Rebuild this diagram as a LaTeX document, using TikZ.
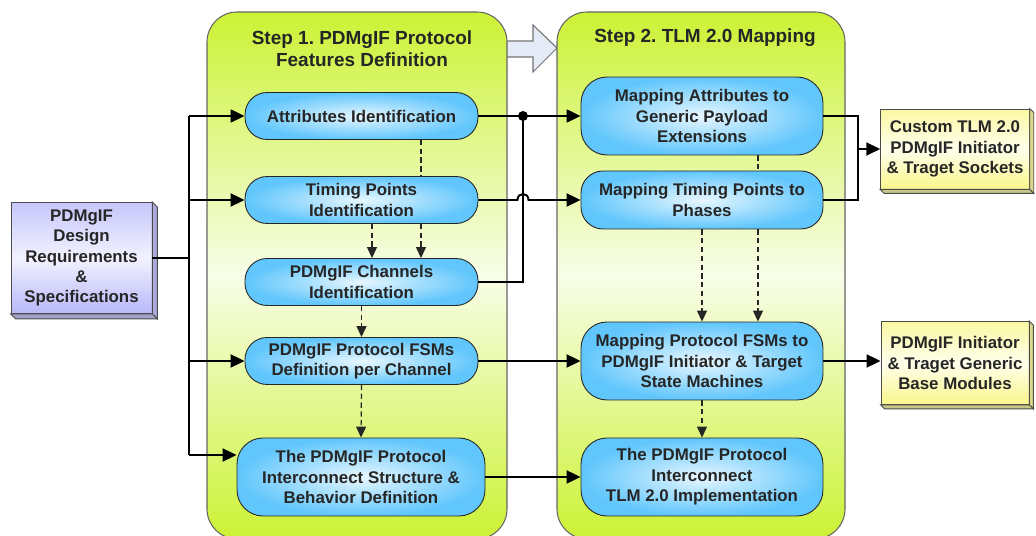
\documentclass[tikz,border=0pt]{standalone}
\usepackage{fontspec}
\setmainfont{Liberation Sans}
\usepackage{xcolor}
\usetikzlibrary{arrows.meta,calc,positioning}
\frenchspacing

\definecolor{limeG}{RGB}{204,242,52}
\definecolor{limeW}{RGB}{248,253,232}
\definecolor{pillC}{RGB}{96,198,252}
\definecolor{pillW}{RGB}{232,247,255}
\definecolor{lavC}{RGB}{184,184,250}
\definecolor{lavW}{RGB}{242,242,255}
\definecolor{yelC}{RGB}{250,246,140}
\definecolor{yelW}{RGB}{255,255,236}
\definecolor{hollow}{RGB}{228,234,246}

\begin{document}
\begin{tikzpicture}[x=0.02cm, y=-0.02cm,
  txt/.style={font=\fontsize{9.6}{11.6}\selectfont\bfseries, align=center, text=black!85},
  title/.style={font=\fontsize{10.8}{12.6}\selectfont\bfseries, align=center, text=black!85},
  panel/.style={draw=black!60, line width=0.6pt, rounded corners=0.6cm, top color=limeG, bottom color=limeG, middle color=limeW},
  pill/.style={txt, draw=black!85, line width=0.5pt, rounded corners=0.44cm, inner color=pillW, outer color=pillC, inner sep=0pt, minimum height=0.94cm},
  bigpill/.style={pill, rounded corners=0.52cm, minimum height=1.56cm},
  reqbox/.style={txt, draw=black!70, line width=0.5pt, top color=lavC!80, bottom color=lavC, middle color=lavW, minimum width=2.82cm, minimum height=2.22cm},
  outbox/.style={txt, draw=black!70, line width=0.5pt, top color=yelC!80, bottom color=yelC, middle color=yelW, minimum width=2.96cm, minimum height=1.6cm},
  bevel/.style={draw=black!70, line width=0.5pt},
  ptr/.style={->, >={Triangle[length=0.28cm, width=0.26cm]}, line width=1.1pt},
  wire/.style={line width=1.1pt},
  dep/.style={->, >={Triangle[length=0.22cm, width=0.2cm]}, dash pattern=on 3pt off 2pt, line width=0.7pt, black!85},
  depline/.style={dep, -}
]
\useasboundingbox (0,0) rectangle (1036,536);

% hollow step arrow (behind the panels)
\draw[fill=hollow, draw=black!55, line width=0.6pt] (503,41) -- (533,41) -- (533,25) -- (557,48) -- (533,72) -- (533,57) -- (503,57) -- cycle;

% Panels
\path[panel] (207,12) rectangle (507,539);
\path[panel] (557,12) rectangle (845,539);
\node[title] (t1) at (362,49) {Step 1. PDMgIF Protocol\\Features Definition};
\node[title] (t2) at (705,38) {Step 2. TLM 2.0 Mapping};

% Step 1 boxes
\node[pill, minimum width=4.66cm] (a1) at (361.5,116) {Attributes Identification};
\node[pill, minimum width=4.66cm] (a2) at (361.5,200) {Timing Points\\Identification};
\node[pill, minimum width=4.66cm] (a3) at (361.5,282) {PDMgIF Channels\\Identification};
\node[pill, minimum width=4.66cm] (a4) at (361.5,361) {PDMgIF Protocol FSMs\\Definition per Channel};
\node[bigpill, minimum width=4.96cm] (a5) at (361,477) {The PDMgIF Protocol\\Interconnect Structure \&\\Behavior Definition};

% Step 2 boxes
\node[bigpill, minimum width=4.84cm] (m1) at (702,116) {Mapping Attributes to\\Generic Payload\\Extensions};
\node[pill, minimum width=4.84cm, minimum height=1.16cm] (m2) at (702,200) {Mapping Timing Points to\\Phases};
\node[bigpill, minimum width=4.84cm] (m3) at (702,361) {Mapping Protocol FSMs to\\PDMgIF Initiator \& Target\\State Machines};
\node[bigpill, minimum width=4.84cm] (m4) at (702,477) {The PDMgIF Protocol\\Interconnect\\TLM 2.0 Implementation};

% Input and outputs
\node[reqbox] (req) at (81.5,258) {PDMgIF\\Design\\Requirements\\\&\\Specifications};
\filldraw[bevel, fill=lavC!75!gray] (req.north east) -- ++(5,5) -- ([shift={(5,5)}]req.south east) -- (req.south east) -- cycle;
\filldraw[bevel, fill=lavC!60!gray] (req.south west) -- ++(5,5) -- ([shift={(5,5)}]req.south east) -- (req.south east) -- cycle;

\node[outbox] (r1) at (955,149) {Custom TLM 2.0\\PDMgIF Initiator\\\& Traget Sockets};
\filldraw[bevel, fill=yelC!75!gray] (r1.north east) -- ++(4,4) -- ([shift={(4,4)}]r1.south east) -- (r1.south east) -- cycle;
\filldraw[bevel, fill=yelC!60!gray] (r1.south west) -- ++(4,4) -- ([shift={(4,4)}]r1.south east) -- (r1.south east) -- cycle;

\node[outbox, minimum height=1.66cm] (r2) at (955,363) {PDMgIF Initiator\\\& Traget Generic\\Base Modules};
\filldraw[bevel, fill=yelC!75!gray] (r2.north east) -- ++(4,4) -- ([shift={(4,4)}]r2.south east) -- (r2.south east) -- cycle;
\filldraw[bevel, fill=yelC!60!gray] (r2.south west) -- ++(4,4) -- ([shift={(4,4)}]r2.south east) -- (r2.south east) -- cycle;

% Requirements bus into step 1
\coordinate (bus) at (189,0);
\coordinate (a5in) at ([yshift=0.44cm]a5.west);
\draw[wire] (req.east) -- (bus |- req.east);
\draw[wire] (bus |- a1.west) -- (bus |- a5in);
\draw[ptr] (bus |- a1.west) -- (a1.west);
\draw[ptr] (bus |- a2.west) -- (a2.west);
\draw[ptr] (bus |- a4.west) -- (a4.west);
\draw[ptr] (bus |- a5in) -- (a5in);

% Dependencies inside step 1
\draw[depline] ([xshift=1.19cm]a1.south) -- ([xshift=1.19cm]a2.north);
\draw[dep] ([xshift=1.19cm]a2.south) -- ([xshift=1.19cm]a3.north);
\draw[dep] ([xshift=0.21cm]a2.south) -- ([xshift=0.21cm]a3.north);
\draw[dep] (a3.south) -- (a4.north);
\draw[dep] (a4.south) -- (a5.north);

% Dependencies inside step 2
\draw[depline] ([xshift=1.12cm]m1.south) -- ([xshift=1.12cm]m2.north);
\draw[dep] ([xshift=1.12cm]m2.south) -- ([xshift=1.12cm]m3.north);
\draw[dep] (m2.south) -- (m3.north);
\draw[dep] (m3.south) -- (m4.north);

% Step 1 -> Step 2
\coordinate (jn) at (523,116);
\draw[ptr] (a1.east) -- (m1.west);
\draw[wire] (a3.east) -| (jn);
\fill (jn) circle (0.1cm);
\draw[ptr] (a2.east) -- ([xshift=-0.11cm]jn |- a2.east) .. controls +(0,-8) and +(0,-8) .. ([xshift=0.11cm]jn |- a2.east) -- (m2.west);
\draw[ptr] (a4.east) -- (m3.west);
\draw[ptr] (a5.east) -- (m4.west);

% Step 2 -> outputs
\coordinate (mrg) at (858,0);
\draw[wire] (m1.east) -| (mrg |- m2.east) -- (m2.east);
\draw[ptr] (mrg |- r1.west) -- (r1.west);
\draw[ptr] (m3.east) -- (m3.east -| r2.west);
\end{tikzpicture}
\end{document}
